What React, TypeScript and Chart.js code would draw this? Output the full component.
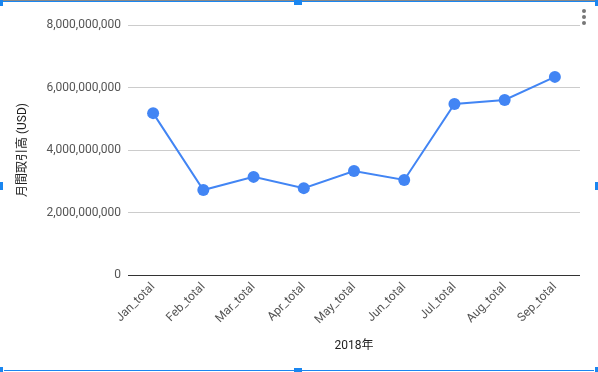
import React, { useEffect, useRef } from "react";
import { Chart, registerables } from "chart.js";

Chart.register(...registerables);

const categories = ["Jan_total", "Feb_total", "Mar_total", "Apr_total", "May_total", "Jun_total", "Jul_total", "Aug_total", "Sep_total"];
const monthlyVolume = [5180000000, 2720000000, 3140000000, 2780000000, 3330000000, 3040000000, 5470000000, 5600000000, 6340000000];
const yTicks = [0, 2000000000, 4000000000, 6000000000, 8000000000];
const yTitle = "月間取引高 (USD)";
const xTitle = "2018年";

const FONT = "Roboto, 'Noto Sans CJK JP', sans-serif";
const BLUE = "#1a86f0";

export default function App() {
  const ref = useRef<HTMLCanvasElement | null>(null);
  useEffect(() => {
    document.body.style.margin = "0";
    const chart = new Chart(ref.current!, {
      type: "line",
      data: {
        labels: categories,
        datasets: [
          {
            data: monthlyVolume,
            borderColor: "#4285f4",
            backgroundColor: "#4285f4",
            borderWidth: 2,
            pointRadius: 6,
            pointBackgroundColor: "#4285f4",
            pointBorderWidth: 0,
            tension: 0,
          },
        ],
      },
      options: {
        animation: false,
        responsive: false,
        layout: { padding: { left: 0, right: 18, top: 25, bottom: 0 } },
        plugins: { legend: { display: false }, tooltip: { enabled: false } },
        scales: {
          x: {
            offset: true,
            grid: { display: false, drawTicks: false },
            border: { display: false },
            ticks: {
              maxRotation: 45,
              minRotation: 45,
              padding: 5,
              color: "#555",
              font: { family: FONT, size: 12 },
              autoSkip: false,
            },
            title: {
              display: true,
              text: xTitle,
              color: "#222",
              font: { family: FONT, size: 12 },
              padding: { top: 0, bottom: 19 },
            },
            afterFit: (axis: any) => {
              axis.height = 97;
            },
          },
          y: {
            min: 0,
            max: 8000000000,
            afterBuildTicks: (axis: any) => {
              axis.ticks = yTicks.map((v) => ({ value: v }));
            },
            grid: {
              drawTicks: false,
              color: (ctx: any) => (ctx.tick && ctx.tick.value === 0 ? "#333" : "#ccc"),
              lineWidth: 1,
            },
            border: { display: false },
            ticks: {
              padding: 7,
              color: "#555",
              font: { family: FONT, size: 12 },
              callback: (v: any) => Number(v).toLocaleString("en-US"),
            },
            title: {
              display: true,
              text: yTitle,
              color: "#222",
              font: { family: FONT, size: 12 },
              padding: { top: 16, bottom: 0 },
            },
            afterFit: (axis: any) => {
              axis.width = 128;
            },
          },
        },
      },
    });
    return () => chart.destroy();
  }, []);

  const sq = (left: number, top: number, w = 5, h = 7): React.CSSProperties => ({
    position: "absolute",
    left,
    top,
    width: w,
    height: h,
    background: BLUE,
  });
  const dot = (top: number): React.CSSProperties => ({
    position: "absolute",
    left: 582,
    top,
    width: 4,
    height: 4,
    borderRadius: 2,
    background: "#777",
  });

  return (
    <div style={{ position: "relative", width: 598, height: 372, overflow: "hidden", background: "#fff" }}>
      <canvas ref={ref} width={598} height={372} style={{ display: "block", width: 598, height: 372 }} />
      <div style={{ position: "absolute", left: 0, top: 0, width: 598, height: 1, background: "#888" }} />
      <div style={{ position: "absolute", left: 0, top: 1, width: 598, height: 1, background: BLUE }} />
      <div style={{ position: "absolute", left: 4, top: 370, width: 590, height: 1, background: BLUE }} />
      <div style={sq(0, 0, 3, 6)} />
      <div style={sq(294, 0, 8, 5)} />
      <div style={sq(595, 0, 3, 6)} />
      <div style={sq(0, 182, 3, 8)} />
      <div style={sq(595, 182, 3, 8)} />
      <div style={sq(0, 367, 3, 5)} />
      <div style={sq(294, 368, 8, 4)} />
      <div style={sq(595, 367, 3, 5)} />
      <div style={dot(9)} />
      <div style={dot(15)} />
      <div style={dot(21)} />
    </div>
  );
}
